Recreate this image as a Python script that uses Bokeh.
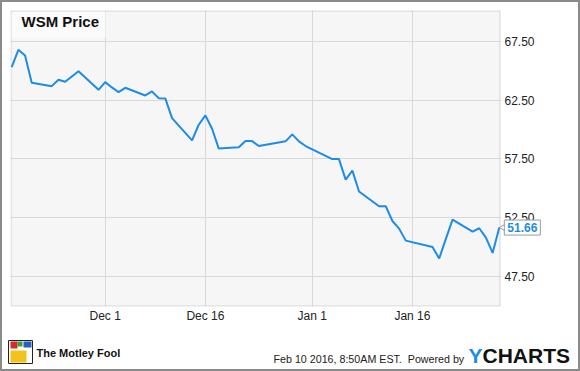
import numpy as np
import pandas as pd
from bokeh.plotting import figure
from bokeh.layouts import column
from bokeh.models import (FixedTicker, NumeralTickFormatter, Label, BoxAnnotation, Range1d)
from bokeh.embed import file_html
from bokeh.resources import INLINE

dates = ["2015-11-17", "2015-11-18", "2015-11-19", "2015-11-20", "2015-11-23", "2015-11-24",
         "2015-11-25", "2015-11-27", "2015-11-30", "2015-12-01", "2015-12-02", "2015-12-03",
         "2015-12-04", "2015-12-07", "2015-12-08", "2015-12-09", "2015-12-10", "2015-12-11",
         "2015-12-14", "2015-12-15", "2015-12-16", "2015-12-17", "2015-12-18", "2015-12-21",
         "2015-12-22", "2015-12-23", "2015-12-24", "2015-12-28", "2015-12-29", "2015-12-30",
         "2015-12-31", "2016-01-04", "2016-01-05", "2016-01-06", "2016-01-07", "2016-01-08",
         "2016-01-11", "2016-01-12", "2016-01-13", "2016-01-14", "2016-01-15", "2016-01-19",
         "2016-01-20", "2016-01-21", "2016-01-22", "2016-01-25", "2016-01-26", "2016-01-27",
         "2016-01-28", "2016-01-29"]
prices = [65.30, 66.77, 66.29, 63.97, 63.68, 64.22, 64.05, 64.95, 63.37, 64.02, 63.57, 63.17,
          63.54, 62.89, 63.23, 62.66, 62.64, 60.96, 59.07, 60.40, 61.19, 60.06, 58.37, 58.48,
          59.01, 59.01, 58.59, 58.99, 59.58, 58.99, 58.59, 57.48, 57.48, 55.73, 56.50, 54.72,
          53.47, 53.47, 52.22, 51.57, 50.55, 50.01, 49.03, 50.70, 52.34, 51.32, 51.60, 50.81,
          49.50, 51.66]

x_tick_dates = ["2015-12-01", "2015-12-16", "2016-01-01", "2016-01-16"]
x_tick_labels = ["Dec 1", "Dec 16", "Jan 1", "Jan 16"]
y_ticks = [47.5, 52.5, 57.5, 62.5, 67.5]

title_text = "WSM Price"
last_value_text = "51.66"
footer_text = "Feb 10 2016, 8:50AM EST.\u00a0 Powered by"
brand_left = "The Motley Fool"

BLUE = "#1e8ce6"
GRAY = "#888888"
FONT = "Liberation Sans"

DAY_MS = 86400000.0
x_ms = [pd.Timestamp(d).value / 1e6 for d in dates]
tick_ms = [pd.Timestamp(d).value / 1e6 for d in x_tick_dates]

# layout geometry (pixels); the page has a 2px CSS border
BORDER = 2
W_A = 576
ML, MT, MR, MB = 8, 8, 37, 24
FRAME_W = W_A - ML - MR      # 531
FRAME_H = 296
H_A = MT + FRAME_H + MB      # 328
H_F = 371 - 2 * BORDER - H_A
PLOT_W = 489                 # width of shaded plot area inside the frame

t_start = x_ms[0] - 0.18 * DAY_MS
t_plot_end = x_ms[-1] + 0.03 * DAY_MS
t_frame_end = t_start + (t_plot_end - t_start) * FRAME_W / PLOT_W
px_day = PLOT_W / ((t_plot_end - t_start) / DAY_MS)

p = figure(frame_width=FRAME_W, frame_height=FRAME_H, x_axis_type="datetime",
           y_axis_location="right", output_backend="svg", toolbar_location=None,
           x_range=Range1d(t_start, t_frame_end), y_range=Range1d(44.95, 70.11),
           min_border_left=ML, min_border_top=MT, min_border_right=MR, min_border_bottom=MB)
p.frame_align = False
p.background_fill_color = "white"
p.border_fill_color = "white"
p.outline_line_color = None

p.xaxis.ticker = FixedTicker(ticks=tick_ms)
p.xaxis.major_label_overrides = {t: lab for t, lab in zip(tick_ms, x_tick_labels)}
p.xgrid.ticker = FixedTicker(ticks=tick_ms)
p.yaxis.ticker = FixedTicker(ticks=y_ticks)
p.ygrid.ticker = FixedTicker(ticks=y_ticks)
p.yaxis.formatter = NumeralTickFormatter(format="0.00")
p.yaxis.fixed_location = t_plot_end

for ax in (p.xaxis[0], p.yaxis[0]):
    ax.axis_line_color = None
    ax.major_tick_line_color = None
    ax.minor_tick_line_color = None
    ax.major_tick_out = 0
    ax.major_tick_in = 0
    ax.minor_tick_out = 0
    ax.minor_tick_in = 0
    ax.major_label_text_font = FONT
    ax.major_label_text_font_size = "12px"
    ax.major_label_text_color = "#222222"
p.xaxis.major_label_standoff = 2
p.yaxis.major_label_standoff = 5

p.grid.grid_line_color = "#d9d9d9"
p.grid.grid_line_width = 1

def sbox(**kw):
    return BoxAnnotation(left_units="screen", right_units="screen",
                         top_units="screen", bottom_units="screen", **kw)

# shaded plot area (below grid), white cover to the right of it (above grid)
p.add_layout(sbox(left=0, right=PLOT_W + 1, top=FRAME_H + 5, bottom=-5,
                  fill_color="#f6f6f6", fill_alpha=1, line_color=None, level="image"))
p.add_layout(sbox(left=PLOT_W + 1, right=FRAME_W + 50, top=FRAME_H + 5, bottom=-5,
                  fill_color="white", fill_alpha=1, line_color=None, level="underlay"))

p.line(x_ms, prices, line_width=2, line_color=BLUE)

# plot-area outline
p.add_layout(sbox(left=0.5, right=PLOT_W + 0.5, top=FRAME_H - 0.5, bottom=0.5,
                  fill_alpha=0, line_color=GRAY, line_width=1, level="annotation"))

# title box
p.add_layout(sbox(left=1, right=95, top=FRAME_H - 1, bottom=FRAME_H - 27,
                  fill_color="#fbfbfb", fill_alpha=1, line_color=None, level="underlay"))
p.add_layout(Label(x=11, y=FRAME_H - 19, x_units="screen", y_units="screen", text=title_text,
                   text_font=FONT, text_font_style="bold", text_font_size="15px",
                   text_color="#111111"))

# last value tag with pointer
p.scatter([x_ms[-1] + 4.7 / px_day * DAY_MS], [prices[-1]], marker="triangle", size=8,
          angle=np.pi / 2, fill_color="white", line_color="#999999", line_width=1)
p.add_layout(Label(x=x_ms[-1], y=prices[-1], x_offset=5, text=last_value_text,
                   text_baseline="middle", text_align="left",
                   text_font=FONT, text_font_style="bold", text_font_size="12px",
                   text_color=BLUE, background_fill_color="white",
                   border_line_color="#999999", padding=3))

# footer figure (coordinates: x from left of canvas, y from top of canvas)
f = figure(width=W_A, height=H_F, output_backend="svg", toolbar_location=None,
           x_range=Range1d(0, W_A), y_range=Range1d(H_F, 0),
           x_axis_location=None, y_axis_location=None, min_border=0)
f.frame_align = False
f.grid.visible = False
f.outline_line_color = None
f.background_fill_color = "white"
f.border_fill_color = "white"

OX, OY = BORDER, BORDER + H_A   # window position of footer canvas origin

def fx(v):
    return v - OX

def fy(v):
    return v - OY

f.quad(left=[fx(8)], right=[fx(32)], top=[fy(340)], bottom=[fy(363)],
       fill_color="white", line_color="#222222", line_width=1)
f.quad(left=[fx(10), fx(10), fx(17), fx(23)], right=[fx(26), fx(17), fx(22), fx(31)],
       top=[fy(350), fy(341), fy(341), fy(341)], bottom=[fy(362), fy(348), fy(346), fy(347)],
       fill_color=["#f2c31a", "#d62b2b", "#3aa23a", "#2a5fc0"], line_color=None)

f.add_layout(Label(x=fx(36), y=fy(352), text=brand_left, text_baseline="middle",
                   text_font=FONT, text_font_style="bold", text_font_size="11px",
                   text_color="#111111"))
f.add_layout(Label(x=fx(273), y=fy(358), text=footer_text, text_baseline="middle",
                   text_font=FONT, text_font_size="10.7px", text_color="#222222"))
f.add_layout(Label(x=fx(468), y=fy(355), text="Y", text_baseline="middle", text_font=FONT,
                   text_font_style="bold", text_font_size="21px", text_color=BLUE))
f.add_layout(Label(x=fx(482), y=fy(355), text="CHARTS", text_baseline="middle", text_font=FONT,
                   text_font_style="bold", text_font_size="21px", text_color="#111111"))

layout = column(p, f, spacing=0, styles={"border": "2px solid #8a8a8a"})

open("out.html", "w").write(file_html(layout, INLINE))
